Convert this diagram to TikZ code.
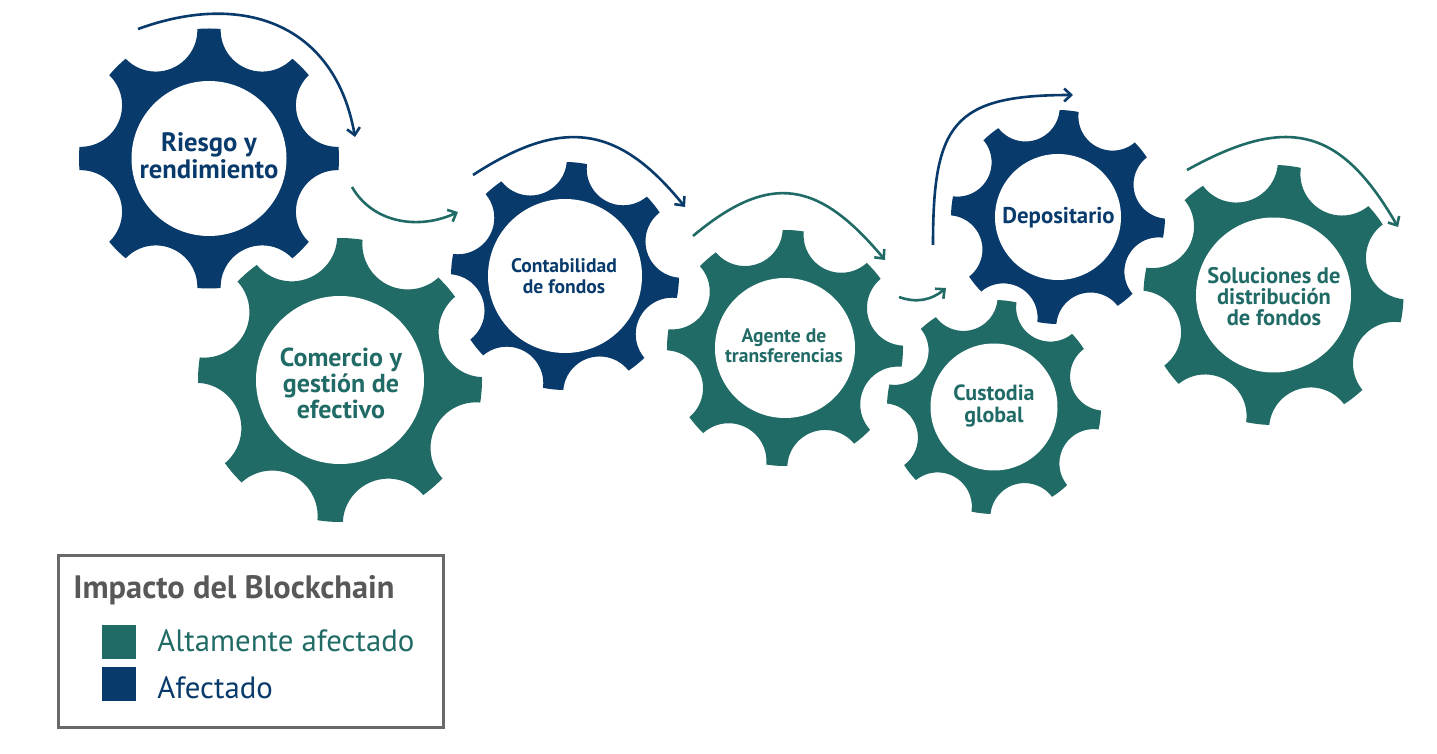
\documentclass[tikz,border=0pt]{standalone}
\usepackage{fontspec}
\setmainfont{PT Sans}
\usetikzlibrary{arrows.meta}
\definecolor{mynavy}{RGB}{8, 58, 107}
\definecolor{myteal}{RGB}{33, 107, 103}
\definecolor{mygray}{RGB}{88, 88, 88}
\definecolor{myframe}{RGB}{105, 105, 105}

% Gear: x, y, outer radius, rotation, colour, hole radius
\newcommand{\gearwheel}[6]{%
  \begin{scope}[shift={(#1,#2)}, rotate=#4]
    \begin{scope}
      \clip (0,0) circle ({#3+8});
      \fill[white, even odd rule] (0,0) circle ({#3+60})
        \foreach \k in {0,...,7} {({22.5+45*\k}:{1.07*#3}) circle ({0.32*#3-8})};
    \end{scope}
    \begin{scope}
      \clip (0,0) circle (#3);
      \fill[#5, even odd rule] (0,0) circle ({#3+60})
        \foreach \k in {0,...,7} {({22.5+45*\k}:{1.07*#3}) circle ({0.32*#3})};
    \end{scope}
    \fill[white] (0,0) circle (#6);
  \end{scope}}

\begin{document}
\begin{tikzpicture}[x=0.5pt, y=0.5pt,
    gearlabel/.style={align=center, inner sep=0pt},
    flow/.style={line width=1.3pt, -{Straight Barb[length=3.5pt, width=6.5pt]}},
    keybox/.style={minimum size=17pt, inner sep=0pt}]
  \useasboundingbox (0,0) rectangle (1437,-754);
  % Gears
  \gearwheel{209}{-158.5}{130}{0}{mynavy}{77.5}
  \gearwheel{340}{-380}{142}{-4}{myteal}{84}
  \gearwheel{565}{-276}{114}{-6}{mynavy}{77}
  \gearwheel{785}{-348}{118}{-4}{myteal}{70}
  \gearwheel{994}{-407}{107}{-7}{myteal}{63.5}
  \gearwheel{1058}{-217}{107}{-6}{mynavy}{63}
  \gearwheel{1273.5}{-295}{130}{-7}{myteal}{77.5}
  % Labels
  \node[gearlabel, text=mynavy, font=\bfseries\fontsize{13.3}{10.5}\selectfont] (riesgo) at (209,-156) {Riesgo y\\rendimiento};
  \node[gearlabel, text=myteal, font=\bfseries\fontsize{13}{10.5}\selectfont] (comercio) at (341,-383) {Comercio y\\gestión de\\efectivo};
  \node[gearlabel, text=mynavy, font=\bfseries\fontsize{9.8}{10.8}\selectfont] (contabilidad) at (564,-276) {Contabilidad\\de fondos};
  \node[gearlabel, text=myteal, font=\bfseries\fontsize{9.8}{8.5}\selectfont] (agente) at (784,-346) {Agente de\\transferencias};
  \node[gearlabel, text=myteal, font=\bfseries\fontsize{11}{10.7}\selectfont] (custodia) at (994,-406) {Custodia\\global};
  \node[gearlabel, text=mynavy, font=\bfseries\fontsize{11.4}{10.7}\selectfont] (depositario) at (1058.5,-218) {Depositario};
  \node[gearlabel, text=myteal, font=\bfseries\fontsize{11.25}{10.5}\selectfont] (soluciones) at (1274,-297) {Soluciones de\\distribución\\de fondos};
  % Arrows
  \coordinate (a1) at (138,-29);   \coordinate (b1) at (355,-137);
  \coordinate (a2) at (352,-187);  \coordinate (b2) at (458,-212);
  \coordinate (a3) at (473,-175);  \coordinate (b3) at (685,-207);
  \coordinate (a4) at (693,-236);  \coordinate (b4) at (885,-260);
  \coordinate (a5) at (899,-297);  \coordinate (b5) at (946,-288);
  \coordinate (a6) at (933,-245);  \coordinate (b6) at (1073,-95);
  \coordinate (a7) at (1187,-170); \coordinate (b7) at (1398,-227);
  \draw[flow, mynavy] (a1) to[out=20, in=100, looseness=1.2] (b1);
  \draw[flow, myteal] (a2) to[out=-60, in=205] (b2);
  \draw[flow, mynavy] (a3) to[out=33, in=129, looseness=1.27] (b3);
  \draw[flow, myteal] (a4) to[out=40, in=130, looseness=1.35] (b4);
  \draw[flow, myteal] (a5) to[out=-20, in=220] (b5);
  \draw[flow, mynavy] (a6) to[out=90, in=180, looseness=1.5] (b6);
  \draw[flow, myteal] (a7) to[out=29, in=120, looseness=1.35] (b7);
  % Legend
  \draw[myframe, line width=1.5pt] (58,-556) rectangle (443,-727);
  \node[anchor=base west, inner sep=0pt, text=mygray, font=\bfseries\fontsize{16.2}{18}\selectfont] (keytitle) at (73,-598) {Impacto del Blockchain};
  \node[keybox, fill=myteal] (keyhigh) at (119,-642) {};
  \node[keybox, fill=mynavy] (keylow) at (119,-684) {};
  \node[anchor=base west, inner sep=0pt, text=myteal, font=\fontsize{15.4}{17}\selectfont] (keyhightext) at (157,-652) {Altamente afectado};
  \node[anchor=base west, inner sep=0pt, text=mynavy, font=\fontsize{15.4}{17}\selectfont] (keylowtext) at (157,-698) {Afectado};
\end{tikzpicture}
\end{document}
